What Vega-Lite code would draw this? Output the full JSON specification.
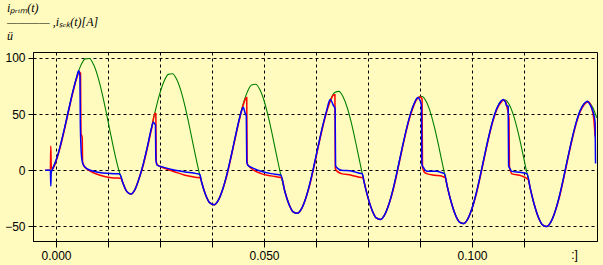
{
  "$schema": "https://vega.github.io/schema/vega-lite/v6.json",
  "width": 564,
  "height": 189,
  "autosize": {"type": "none"},
  "padding": {"left": 33, "top": 52, "right": 6, "bottom": 24},
  "background": "#fffabe",
  "config": {
    "view": {"stroke": "#000000", "strokeWidth": 1, "fill": "#fffabe"},
    "axis": {
      "grid": true,
      "gridColor": "#000000",
      "gridDash": [3, 3],
      "gridWidth": 1,
      "gridOpacity": 1,
      "domainColor": "#000000",
      "domainWidth": 1,
      "tickColor": "#000000",
      "tickWidth": 1,
      "labelFont": "Liberation Sans",
      "labelFontSize": 12,
      "labelColor": "#000000",
      "labelOverlap": false,
      "labelFlush": false
    }
  },
  "title": {
    "text": ["iₚᵣᵢₘ(t)", "———— ,iₛₑₖ(t)[A]", "\u00a0\u00a0\u00a0\u00a0\u00a0\u00a0ü"],
    "anchor": "start",
    "frame": "group",
    "font": "Liberation Serif",
    "fontStyle": "italic",
    "fontWeight": "normal",
    "fontSize": 12,
    "lineHeight": 14,
    "color": "#000000",
    "dx": -26,
    "offset": 9
  },
  "datasets": {
    "prim": [{"t":-0.001,"i":0.3},{"t":0,"i":8.7},{"t":0.001,"i":21.3},{"t":0.002,"i":36.6},{"t":0.003,"i":53.2},{"t":0.004,"i":69.3},{"t":0.005,"i":83.3},{"t":0.006,"i":93.6},{"t":0.007,"i":99.2},{"t":0.008,"i":99.5},{"t":0.009,"i":94.3},{"t":0.01,"i":84.1},{"t":0.011,"i":69.9},{"t":0.012,"i":52.8},{"t":0.013,"i":34.6},{"t":0.014,"i":16.9},{"t":0.015,"i":1.4},{"t":0.016,"i":-10.5},{"t":0.017,"i":-18.8},{"t":0.018,"i":-21.2},{"t":0.019,"i":-17},{"t":0.02,"i":-7},{"t":0.021,"i":5.9},{"t":0.022,"i":21.5},{"t":0.023,"i":38.4},{"t":0.024,"i":54.8},{"t":0.025,"i":68.9},{"t":0.026,"i":79.5},{"t":0.027,"i":85.4},{"t":0.028,"i":85.9},{"t":0.029,"i":81},{"t":0.03,"i":71.1},{"t":0.031,"i":57.1},{"t":0.032,"i":40.3},{"t":0.033,"i":22.3},{"t":0.034,"i":4.8},{"t":0.035,"i":-10.5},{"t":0.036,"i":-22.2},{"t":0.037,"i":-29.1},{"t":0.038,"i":-30.7},{"t":0.039,"i":-26.8},{"t":0.04,"i":-17.8},{"t":0.041,"i":-4.8},{"t":0.042,"i":11.1},{"t":0.043,"i":28.1},{"t":0.044,"i":44.7},{"t":0.045,"i":59.1},{"t":0.046,"i":69.8},{"t":0.047,"i":75.9},{"t":0.048,"i":76.6},{"t":0.049,"i":71.9},{"t":0.05,"i":62.1},{"t":0.051,"i":48.2},{"t":0.052,"i":31.6},{"t":0.053,"i":13.7},{"t":0.054,"i":-3.6},{"t":0.055,"i":-18.7},{"t":0.056,"i":-30.2},{"t":0.057,"i":-37},{"t":0.058,"i":-38.4},{"t":0.059,"i":-34.4},{"t":0.06,"i":-25.3},{"t":0.061,"i":-12.1},{"t":0.062,"i":3.9},{"t":0.063,"i":21.1},{"t":0.064,"i":37.7},{"t":0.065,"i":52.2},{"t":0.066,"i":63.1},{"t":0.067,"i":69.3},{"t":0.068,"i":70.2},{"t":0.069,"i":65.5},{"t":0.07,"i":55.9},{"t":0.071,"i":42.1},{"t":0.072,"i":25.6},{"t":0.073,"i":7.9},{"t":0.074,"i":-9.4},{"t":0.075,"i":-24.4},{"t":0.076,"i":-35.8},{"t":0.077,"i":-42.5},{"t":0.078,"i":-43.8},{"t":0.079,"i":-39.7},{"t":0.08,"i":-30.5},{"t":0.081,"i":-17.2},{"t":0.082,"i":-1.1},{"t":0.083,"i":16.2},{"t":0.084,"i":32.9},{"t":0.085,"i":47.5},{"t":0.086,"i":58.5},{"t":0.087,"i":64.8},{"t":0.088,"i":65.7},{"t":0.089,"i":61.2},{"t":0.09,"i":51.6},{"t":0.091,"i":37.9},{"t":0.092,"i":21.4},{"t":0.093,"i":3.8},{"t":0.094,"i":-13.4},{"t":0.095,"i":-28.3},{"t":0.096,"i":-39.6},{"t":0.097,"i":-46.2},{"t":0.098,"i":-47.5},{"t":0.099,"i":-43.3},{"t":0.1,"i":-34.1},{"t":0.101,"i":-20.7},{"t":0.102,"i":-4.6},{"t":0.103,"i":12.8},{"t":0.104,"i":29.6},{"t":0.105,"i":44.3},{"t":0.106,"i":55.3},{"t":0.107,"i":61.6},{"t":0.108,"i":62.6},{"t":0.109,"i":58.1},{"t":0.11,"i":48.6},{"t":0.111,"i":35},{"t":0.112,"i":18.6},{"t":0.113,"i":1},{"t":0.114,"i":-16.1},{"t":0.115,"i":-31},{"t":0.116,"i":-42.3},{"t":0.117,"i":-48.8},{"t":0.118,"i":-50.1},{"t":0.119,"i":-45.8},{"t":0.12,"i":-36.5},{"t":0.121,"i":-23.1},{"t":0.122,"i":-6.9},{"t":0.123,"i":10.5},{"t":0.124,"i":27.3},{"t":0.125,"i":42},{"t":0.126,"i":53.1},{"t":0.127,"i":59.5},{"t":0.128,"i":60.5},{"t":0.129,"i":56.1},{"t":0.13,"i":46.6}],
    "sek1": [{"t":-0.0026,"i":0},{"t":-0.00135,"i":0.3},{"t":-0.00125,"i":21.5},{"t":-0.00115,"i":4},{"t":-0.0009,"i":1},{"t":0,"i":7.9},{"t":0.001,"i":20.4},{"t":0.002,"i":35.7},{"t":0.003,"i":52.3},{"t":0.004,"i":68.4},{"t":0.005,"i":82.4},{"t":0.0056,"i":87.5},{"t":0.0059,"i":86.5},{"t":0.006,"i":33},{"t":0.0063,"i":29},{"t":0.0064,"i":7},{"t":0.007,"i":2.5},{"t":0.0078,"i":0},{"t":0.009,"i":-2.2},{"t":0.0106,"i":-4.4},{"t":0.0122,"i":-6},{"t":0.0138,"i":-6.8},{"t":0.015,"i":-7},{"t":0.0157,"i":-7.3},{"t":0.016,"i":-10.5},{"t":0.017,"i":-18.8},{"t":0.018,"i":-21.2},{"t":0.019,"i":-17},{"t":0.02,"i":-7},{"t":0.021,"i":4.9},{"t":0.022,"i":20.5},{"t":0.023,"i":37.4},{"t":0.0238,"i":50.7},{"t":0.024,"i":50.3},{"t":0.0241,"i":7.4},{"t":0.0245,"i":4.5},{"t":0.0253,"i":3},{"t":0.0286,"i":-1.5},{"t":0.031,"i":-4.4},{"t":0.0338,"i":-6.4},{"t":0.03475,"i":-6.9},{"t":0.035,"i":-10.5},{"t":0.036,"i":-22.2},{"t":0.037,"i":-29.1},{"t":0.038,"i":-30.7},{"t":0.039,"i":-26.8},{"t":0.04,"i":-17.8},{"t":0.041,"i":-5.8},{"t":0.042,"i":10.1},{"t":0.043,"i":27.1},{"t":0.044,"i":43.7},{"t":0.045,"i":58.1},{"t":0.0457,"i":64.5},{"t":0.04585,"i":64.8},{"t":0.04595,"i":6},{"t":0.047,"i":1.5},{"t":0.0493,"i":-3},{"t":0.0517,"i":-5},{"t":0.0533,"i":-6},{"t":0.0542,"i":-6.6},{"t":0.055,"i":-18.7},{"t":0.056,"i":-30.2},{"t":0.057,"i":-37},{"t":0.058,"i":-38.4},{"t":0.059,"i":-34.4},{"t":0.06,"i":-25.3},{"t":0.061,"i":-13.1},{"t":0.062,"i":2.9},{"t":0.063,"i":20.1},{"t":0.064,"i":36.7},{"t":0.065,"i":51.2},{"t":0.066,"i":62.1},{"t":0.0667,"i":67},{"t":0.06705,"i":67.3},{"t":0.06715,"i":1.5},{"t":0.0676,"i":-1},{"t":0.0686,"i":-3},{"t":0.071,"i":-4.4},{"t":0.0727,"i":-6},{"t":0.07385,"i":-7},{"t":0.074,"i":-9.4},{"t":0.075,"i":-24.4},{"t":0.076,"i":-35.8},{"t":0.077,"i":-42.5},{"t":0.078,"i":-43.8},{"t":0.079,"i":-39.7},{"t":0.08,"i":-30.5},{"t":0.081,"i":-18.2},{"t":0.082,"i":-2.1},{"t":0.083,"i":15.2},{"t":0.084,"i":31.9},{"t":0.085,"i":46.5},{"t":0.086,"i":57.5},{"t":0.087,"i":64.3},{"t":0.0875,"i":65.2},{"t":0.088,"i":63.5},{"t":0.0881,"i":3},{"t":0.0885,"i":-1.5},{"t":0.0891,"i":-3},{"t":0.0911,"i":-4.4},{"t":0.0927,"i":-5.2},{"t":0.0936,"i":-6.8},{"t":0.094,"i":-13.4},{"t":0.095,"i":-28.3},{"t":0.096,"i":-39.6},{"t":0.097,"i":-46.2},{"t":0.098,"i":-47.5},{"t":0.099,"i":-43.3},{"t":0.1,"i":-34.1},{"t":0.101,"i":-21.7},{"t":0.102,"i":-5.6},{"t":0.103,"i":11.8},{"t":0.104,"i":28.6},{"t":0.105,"i":43.3},{"t":0.106,"i":54.3},{"t":0.107,"i":60.6},{"t":0.1075,"i":62.3},{"t":0.108,"i":61.5},{"t":0.1085,"i":55},{"t":0.1089,"i":46},{"t":0.109,"i":3},{"t":0.1093,"i":-1},{"t":0.1095,"i":-3},{"t":0.1119,"i":-5},{"t":0.11355,"i":-8.4},{"t":0.114,"i":-16.1},{"t":0.115,"i":-31},{"t":0.116,"i":-42.3},{"t":0.117,"i":-48.8},{"t":0.118,"i":-50.1},{"t":0.119,"i":-45.8},{"t":0.12,"i":-36.5},{"t":0.121,"i":-24.1},{"t":0.122,"i":-7.9},{"t":0.123,"i":9.5},{"t":0.124,"i":26.3},{"t":0.125,"i":41},{"t":0.126,"i":52.1},{"t":0.127,"i":58.5},{"t":0.1279,"i":61.3},{"t":0.1288,"i":55},{"t":0.1293,"i":45},{"t":0.1296,"i":30}],
    "sek2": [{"t":-0.0026,"i":0},{"t":-0.00135,"i":0},{"t":-0.00125,"i":-14},{"t":-0.00115,"i":-2},{"t":-0.0009,"i":0.5},{"t":0,"i":8.7},{"t":0.001,"i":21.3},{"t":0.002,"i":36.6},{"t":0.003,"i":53.2},{"t":0.004,"i":69.3},{"t":0.005,"i":83.3},{"t":0.00545,"i":88.5},{"t":0.00575,"i":84},{"t":0.00585,"i":40},{"t":0.0062,"i":10},{"t":0.0066,"i":4.5},{"t":0.0074,"i":1.5},{"t":0.0098,"i":-1.5},{"t":0.013,"i":-3},{"t":0.015,"i":-3.2},{"t":0.01545,"i":-4},{"t":0.016,"i":-10.5},{"t":0.017,"i":-18.8},{"t":0.018,"i":-21.2},{"t":0.019,"i":-17},{"t":0.02,"i":-7},{"t":0.021,"i":5.9},{"t":0.022,"i":21.5},{"t":0.023,"i":38.4},{"t":0.0234,"i":42.7},{"t":0.0239,"i":40},{"t":0.024,"i":10},{"t":0.0243,"i":4.5},{"t":0.0255,"i":3},{"t":0.0286,"i":0},{"t":0.031,"i":-1.5},{"t":0.0338,"i":-3},{"t":0.03455,"i":-3.6},{"t":0.035,"i":-10.5},{"t":0.036,"i":-22.2},{"t":0.037,"i":-29.1},{"t":0.038,"i":-30.7},{"t":0.039,"i":-26.8},{"t":0.04,"i":-17.8},{"t":0.041,"i":-4.8},{"t":0.042,"i":11.1},{"t":0.043,"i":28.1},{"t":0.044,"i":44.7},{"t":0.0446,"i":53},{"t":0.045,"i":56},{"t":0.0455,"i":50.5},{"t":0.04575,"i":48.5},{"t":0.04585,"i":8},{"t":0.0461,"i":4.4},{"t":0.047,"i":2.5},{"t":0.0493,"i":-0.9},{"t":0.0517,"i":-3},{"t":0.0533,"i":-3.8},{"t":0.05405,"i":-4.2},{"t":0.055,"i":-18.7},{"t":0.056,"i":-30.2},{"t":0.057,"i":-37},{"t":0.058,"i":-38.4},{"t":0.059,"i":-34.4},{"t":0.06,"i":-25.3},{"t":0.061,"i":-12.1},{"t":0.062,"i":3.9},{"t":0.063,"i":21.1},{"t":0.064,"i":37.7},{"t":0.065,"i":52.2},{"t":0.0659,"i":63},{"t":0.0663,"i":61},{"t":0.0667,"i":57.5},{"t":0.0671,"i":55},{"t":0.0672,"i":4},{"t":0.0676,"i":2},{"t":0.0686,"i":0},{"t":0.071,"i":-0.6},{"t":0.0727,"i":-2.4},{"t":0.07365,"i":-3.3},{"t":0.074,"i":-9.4},{"t":0.075,"i":-24.4},{"t":0.076,"i":-35.8},{"t":0.077,"i":-42.5},{"t":0.078,"i":-43.8},{"t":0.079,"i":-39.7},{"t":0.08,"i":-30.5},{"t":0.081,"i":-17.2},{"t":0.082,"i":-1.1},{"t":0.083,"i":16.2},{"t":0.084,"i":32.9},{"t":0.085,"i":47.5},{"t":0.086,"i":58.5},{"t":0.087,"i":64.8},{"t":0.0874,"i":63},{"t":0.08785,"i":57.5},{"t":0.08795,"i":5},{"t":0.0884,"i":2},{"t":0.0891,"i":-0.9},{"t":0.0915,"i":-1},{"t":0.0926,"i":-2},{"t":0.0934,"i":-3.1},{"t":0.094,"i":-13.4},{"t":0.095,"i":-28.3},{"t":0.096,"i":-39.6},{"t":0.097,"i":-46.2},{"t":0.098,"i":-47.5},{"t":0.099,"i":-43.3},{"t":0.1,"i":-34.1},{"t":0.101,"i":-20.7},{"t":0.102,"i":-4.6},{"t":0.103,"i":12.8},{"t":0.104,"i":29.6},{"t":0.105,"i":44.3},{"t":0.106,"i":55.3},{"t":0.107,"i":61.6},{"t":0.1075,"i":63},{"t":0.108,"i":61},{"t":0.1083,"i":57.5},{"t":0.1087,"i":57},{"t":0.1088,"i":4},{"t":0.1092,"i":1},{"t":0.1095,"i":-1},{"t":0.1119,"i":-2},{"t":0.11325,"i":-3.3},{"t":0.114,"i":-16.1},{"t":0.115,"i":-31},{"t":0.116,"i":-42.3},{"t":0.117,"i":-48.8},{"t":0.118,"i":-50.1},{"t":0.119,"i":-45.8},{"t":0.12,"i":-36.5},{"t":0.121,"i":-23.1},{"t":0.122,"i":-6.9},{"t":0.123,"i":10.5},{"t":0.124,"i":27.3},{"t":0.125,"i":42},{"t":0.126,"i":53.1},{"t":0.127,"i":59.5},{"t":0.1277,"i":61.5},{"t":0.1285,"i":57.5},{"t":0.1291,"i":52},{"t":0.1296,"i":42.7},{"t":0.1297,"i":6}]
  },
  "encoding": {
    "x": {
      "field": "t",
      "type": "quantitative",
      "scale": {"domain": [-0.00553, 0.13005], "nice": false, "zero": false},
      "axis": {
        "values": [0, 0.0125, 0.025, 0.0375, 0.05, 0.0625, 0.075, 0.0875, 0.1, 0.1125],
        "labelExpr": "(datum.value == 0 || datum.value == 0.05 || datum.value == 0.1) ? format(datum.value, '.3f') : ''",
        "tickSize": 6,
        "labelPadding": 3,
        "title": ":]",
        "titleFont": "Liberation Sans",
        "titleFontSize": 12,
        "titleFontWeight": "normal",
        "titleColor": "#000000",
        "titleAlign": "center",
        "titleBaseline": "alphabetic",
        "titleX": 541,
        "titleY": 17
      }
    },
    "y": {
      "field": "i",
      "type": "quantitative",
      "scale": {"domain": [-63, 105.3], "nice": false, "zero": false},
      "axis": {
        "values": [-50, 0, 50, 100],
        "tickSize": 5,
        "labelPadding": 3,
        "title": null
      }
    }
  },
  "layer": [
    {"data": {"name": "prim"}, "mark": {"type": "line", "color": "#008000", "strokeWidth": 1.1, "interpolate": "monotone", "clip": true}, "encoding": {}},
    {"data": {"name": "sek1"}, "mark": {"type": "line", "color": "#ff0000", "strokeWidth": 1.5, "interpolate": "monotone", "clip": true}, "encoding": {}},
    {"data": {"name": "sek2"}, "mark": {"type": "line", "color": "#0000ff", "strokeWidth": 1.5, "interpolate": "monotone", "clip": true}, "encoding": {}}
  ]
}
